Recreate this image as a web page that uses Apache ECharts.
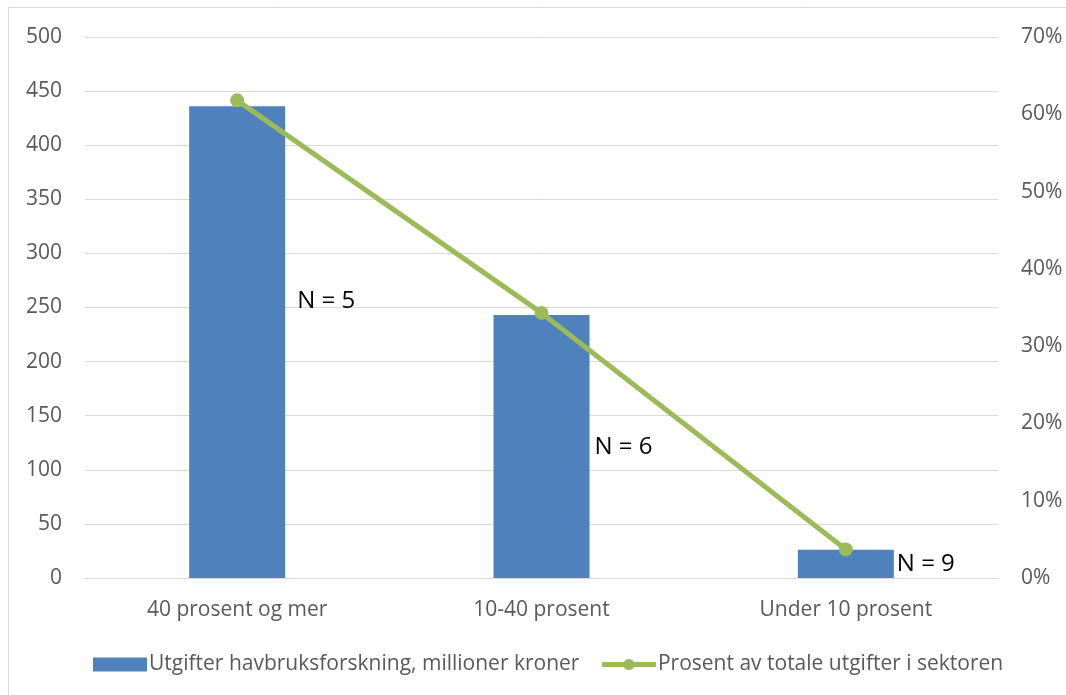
<!DOCTYPE html>
<html>
<head>
<meta charset="utf-8">
<script src="https://cdn.jsdelivr.net/npm/echarts@6/dist/echarts.min.js"></script>
<style>
html,body{margin:0;padding:0;background:#fff;}
#chart{width:1066px;height:695px;}
</style>
</head>
<body>
<div id="chart"></div>
<script>
var categories = ['40 prosent og mer', '10-40 prosent', 'Under 10 prosent'];
var spending = [436, 243, 26];
var sharePercent = [61.8, 34.3, 3.7];
var countLabels = ['N = 5', 'N = 6', 'N = 9'];
var barName = 'Utgifter havbruksforskning, millioner kroner';
var lineName = 'Prosent av totale utgifter i sektoren';

var labelOffsets = [[10, -41], [3, 1], [1, 0]];
var barData = spending.map(function (v, i) {
  return {
    value: v,
    label: {
      show: true,
      position: 'right',
      distance: 2,
      offset: labelOffsets[i],
      formatter: countLabels[i],
      color: '#000',
      fontSize: 24,
      fontFamily: 'Open Sans'
    }
  };
});

var txt = '#595959';
var chart = echarts.init(document.getElementById('chart'));
chart.setOption({
  animation: false,
  textStyle: { fontFamily: 'Open Sans' },
  graphic: [{
    type: 'rect',
    shape: { x: 8.5, y: 7.5, width: 1100, height: 800 },
    style: { fill: 'none', stroke: '#d9d9d9', lineWidth: 1 },
    silent: true
  }],
  grid: { left: 85, right: 68, top: 37, bottom: 117 },
  legend: {
    left: 88,
    top: 649,
    itemWidth: 54,
    itemHeight: 14,
    itemGap: 20,
    textStyle: { color: txt, fontSize: 21, fontFamily: 'Open Sans', padding: [0, 0, 0, -3] },
    data: [
      { name: barName, icon: 'rect' },
      { name: lineName, lineStyle: { width: 5, color: '#9bbb59' }, itemStyle: { color: '#9bbb59' } }
    ]
  },
  xAxis: {
    type: 'category',
    data: categories,
    axisTick: { show: false },
    axisLine: { lineStyle: { color: '#d9d9d9', width: 1 } },
    axisLabel: { color: txt, fontSize: 21, margin: 22 }
  },
  yAxis: [{
    type: 'value',
    min: 0, max: 500, interval: 50,
    axisLine: { show: false },
    axisTick: { show: false },
    splitLine: { lineStyle: { color: '#d9d9d9', width: 1 } },
    axisLabel: { color: txt, fontSize: 21, margin: 23 }
  }, {
    type: 'value',
    min: 0, max: 70, interval: 10,
    position: 'right',
    axisLine: { show: false },
    axisTick: { show: false },
    splitLine: { show: false },
    axisLabel: { color: txt, fontSize: 21, margin: 23, formatter: '{value}%' }
  }],
  series: [{
    name: barName,
    type: 'bar',
    data: barData,
    barWidth: 96,
    itemStyle: { color: '#4f81bd' },
    z: 2
  }, {
    name: lineName,
    type: 'line',
    yAxisIndex: 1,
    data: sharePercent,
    symbol: 'circle',
    symbolSize: 14,
    itemStyle: { color: '#9bbb59' },
    lineStyle: { color: '#9bbb59', width: 5 },
    z: 3
  }]
});
</script>
</body>
</html>
